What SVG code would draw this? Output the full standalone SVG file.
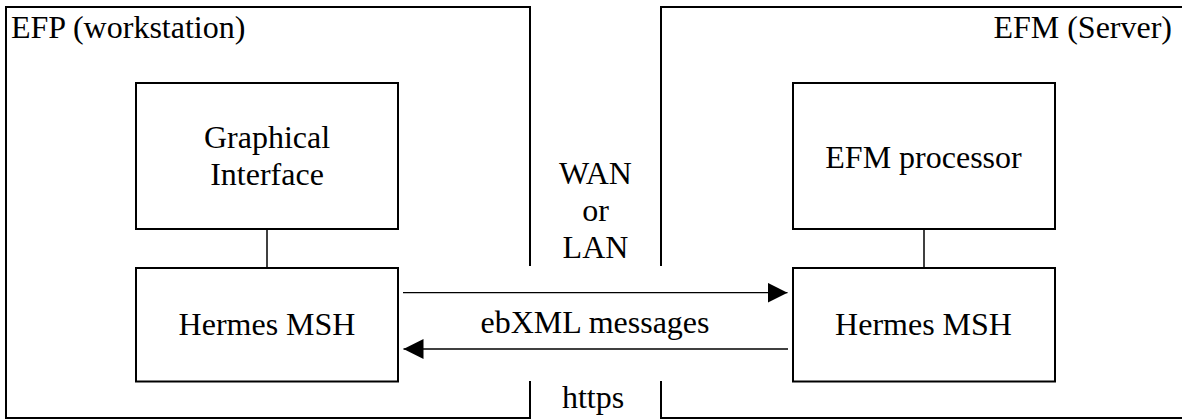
<svg xmlns="http://www.w3.org/2000/svg" width="1182" height="420" viewBox="0 0 1182 420">
  <style>
    .frame { fill: none; stroke: #000; stroke-width: 2; }
    .box { fill: #fff; stroke: #000; stroke-width: 2; }
    .link { stroke: #000; stroke-width: 1.5; fill: none; }
    .arrow { stroke: #000; stroke-width: 1.3; fill: none; }
    .t { font-family: "Liberation Serif", "Times New Roman", serif; font-size: 32px; fill: #000; }
    .c { text-anchor: middle; }
  </style>
  <defs>
    <marker id="ah" markerUnits="userSpaceOnUse" markerWidth="21" markerHeight="21" refX="20" refY="10" orient="auto">
      <path d="M0,0 L20,10 L0,20 Z" fill="#000"/>
    </marker>
  </defs>
  <rect width="1182" height="420" fill="#fff"/>

  <g id="efp-frame">
    <path class="frame" d="M530,266 V7 H6 V418 H530 V381"/>
    <text class="t" x="11" y="38">EFP (workstation)</text>
  </g>
  <g id="efm-frame">
    <path class="frame" d="M1183,7 H661 V266 M661,381 V418 H1183"/>
    <text class="t" x="1172" y="38" text-anchor="end">EFM (Server)</text>
  </g>

  <g id="network-label">
    <text class="t c" x="595.5" y="184">WAN</text>
    <text class="t c" x="595.5" y="221">or</text>
    <text class="t c" x="595.5" y="258">LAN</text>
  </g>
  <g id="https-label">
    <text class="t c" x="593" y="408">https</text>
  </g>

  <g id="connectors">
    <line class="link" x1="267" y1="229" x2="267" y2="268"/>
    <line class="link" x1="924" y1="229" x2="924" y2="268"/>
    <line class="arrow" x1="403" y1="292.7" x2="787.5" y2="292.7" marker-end="url(#ah)"/>
    <line class="arrow" x1="788" y1="349" x2="403.5" y2="349" marker-end="url(#ah)"/>
    <text class="t c" x="595" y="333">ebXML messages</text>
  </g>

  <g id="graphical-interface">
    <rect class="box" x="136" y="83" width="262" height="146"/>
    <text class="t c" x="267" y="148">Graphical</text>
    <text class="t c" x="267" y="185">Interface</text>
  </g>
  <g id="hermes-left">
    <rect class="box" x="136" y="268" width="262" height="113.5"/>
    <text class="t c" x="267" y="335">Hermes MSH</text>
  </g>
  <g id="efm-processor">
    <rect class="box" x="793" y="83" width="262" height="146"/>
    <text class="t c" x="923.5" y="168">EFM processor</text>
  </g>
  <g id="hermes-right">
    <rect class="box" x="793" y="268" width="262" height="113.5"/>
    <text class="t c" x="923.5" y="335">Hermes MSH</text>
  </g>
</svg>
